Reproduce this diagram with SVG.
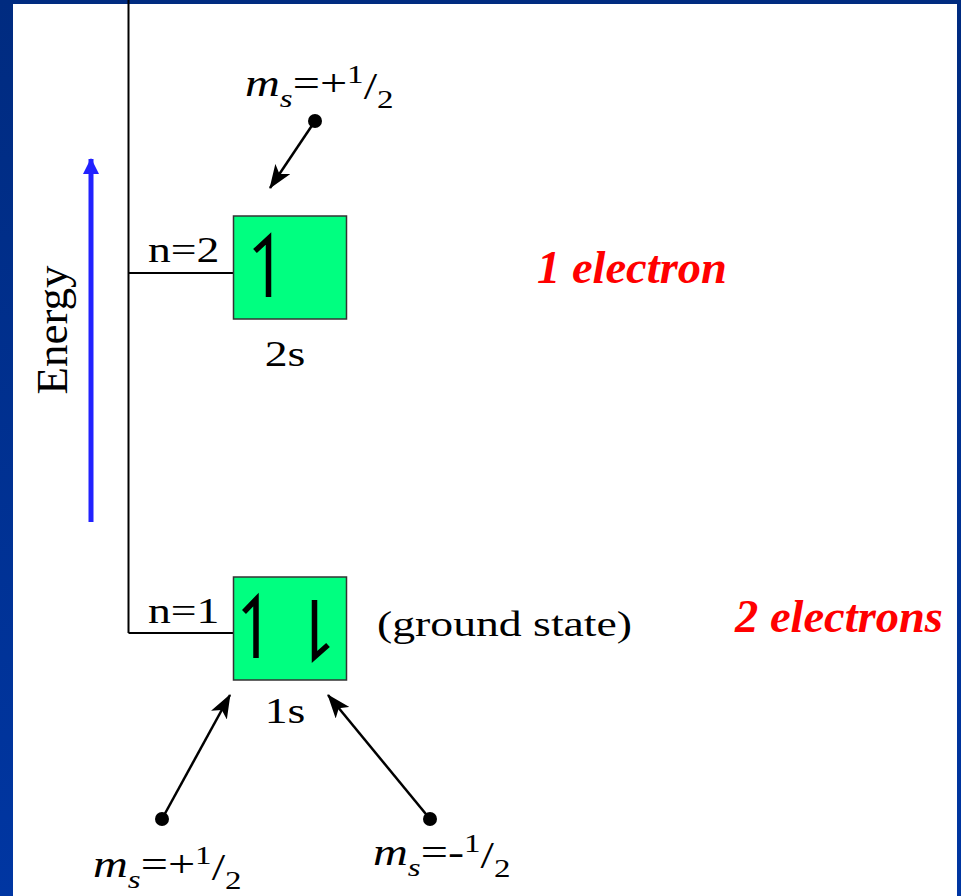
<svg xmlns="http://www.w3.org/2000/svg" width="961" height="896" viewBox="0 0 961 896">
  <defs>
    <linearGradient id="bg" x1="0" y1="0" x2="0" y2="1">
      <stop offset="0" stop-color="#002b80"/>
      <stop offset="1" stop-color="#0036a2"/>
    </linearGradient>
    <marker id="ah" viewBox="0 0 24 18" refX="23" refY="9" markerWidth="24" markerHeight="18" markerUnits="userSpaceOnUse" orient="auto">
      <path d="M0,0 L24,9 L0,18 L6,9 z" fill="#000"/>
    </marker>
    <marker id="bh" viewBox="0 0 16 16" refX="15" refY="8" markerWidth="16" markerHeight="16" markerUnits="userSpaceOnUse" orient="auto">
      <path d="M0,0 L16,8 L0,16 z" fill="#2222ff"/>
    </marker>
  </defs>
  <style>
    .t { font-family: "Liberation Serif", "Times New Roman", serif; font-size: 36px; fill: #000; }
    .big { font-size: 45px; }
    .ms { font-family: "Liberation Serif", "Times New Roman", serif; font-size: 38px; fill: #000; }
    .it { font-style: italic; }
    .sm { font-size: 26px; }
    .red { font-family: "Liberation Serif", "Times New Roman", serif; font-size: 46.5px; font-style: italic; font-weight: bold; fill: #ff0000; }
    .box { fill: #00ff80; stroke: #333; stroke-width: 1.5; }
    .line { stroke: #000; stroke-width: 2; fill: none; }
    .spin { stroke: #000; stroke-width: 5.5; fill: none; stroke-linecap: butt; stroke-linejoin: miter; }
    .conn { stroke: #000; stroke-width: 2.5; fill: none; }
  </style>
  <rect x="0" y="0" width="961" height="896" fill="url(#bg)"/>
  <rect x="13" y="4" width="944" height="892" fill="#fff"/>

  <g id="energy-axis">
    <line x1="91" y1="522" x2="91" y2="159" stroke="#2222ff" stroke-width="5" marker-end="url(#bh)"/>
    <text class="t big" x="67" y="330" text-anchor="middle" transform="rotate(-90 67 330)">Energy</text>
    <polyline class="line" points="128.5,0 128.5,633"/>
  </g>

  <g id="level-n2">
    <line class="line" x1="128.5" y1="273" x2="234" y2="273"/>
    <text class="t" transform="translate(148,262) scale(1.27,1)">n=2</text>
  </g>

  <g id="box-2s">
    <rect class="box" x="233.5" y="216" width="113" height="103"/>
    <path class="spin" d="M255,251 L268.5,238.5 L268.5,297"/>
    <text class="t" text-anchor="middle" transform="translate(285,366) scale(1.27,1)">2s</text>
  </g>

  <g id="level-n1">
    <line class="line" x1="128.5" y1="633" x2="234" y2="633"/>
    <text class="t" transform="translate(148,623) scale(1.27,1)">n=1</text>
  </g>

  <g id="box-1s">
    <rect class="box" x="233.5" y="577" width="113" height="103"/>
    <path class="spin" d="M244,612 L256,599.5 L256,658"/>
    <path class="spin" d="M314.5,600 L314.5,657 L328,645"/>
    <text class="t" text-anchor="middle" transform="translate(285,723) scale(1.27,1)">1s</text>
    <text class="t" transform="translate(377,636) scale(1.27,1)">(ground state)</text>
  </g>

  <g id="label-1-electron">
    <text class="red" x="537" y="283">1 electron</text>
  </g>
  <g id="label-2-electrons">
    <text class="red" x="735" y="632">2 electrons</text>
  </g>

  <g id="ms-top">
    <text class="ms" transform="translate(245,96) scale(1.27,1)"><tspan class="it">m</tspan><tspan class="it sm" dy="11">s</tspan><tspan dy="-11">=+</tspan><tspan class="sm" dy="-13">1</tspan><tspan dy="16">/</tspan><tspan class="sm" dy="9">2</tspan></text>
  </g>
  <g id="ms-bottom-left">
    <text class="ms" transform="translate(93,877) scale(1.27,1)"><tspan class="it">m</tspan><tspan class="it sm" dy="11">s</tspan><tspan dy="-11">=+</tspan><tspan class="sm" dy="-13">1</tspan><tspan dy="16">/</tspan><tspan class="sm" dy="9">2</tspan></text>
  </g>
  <g id="ms-bottom-right">
    <text class="ms" transform="translate(373,865) scale(1.27,1)"><tspan class="it">m</tspan><tspan class="it sm" dy="11">s</tspan><tspan dy="-11">=-</tspan><tspan class="sm" dy="-13">1</tspan><tspan dy="16">/</tspan><tspan class="sm" dy="9">2</tspan></text>
  </g>

  <g id="connectors">
    <circle cx="315" cy="121" r="7" fill="#000"/>
    <line class="conn" x1="315" y1="121" x2="270" y2="188" marker-end="url(#ah)"/>
    <circle cx="162" cy="819" r="7" fill="#000"/>
    <line class="conn" x1="162" y1="819" x2="230" y2="695" marker-end="url(#ah)"/>
    <circle cx="430" cy="819" r="7" fill="#000"/>
    <line class="conn" x1="430" y1="819" x2="328" y2="695" marker-end="url(#ah)"/>
  </g>
</svg>
